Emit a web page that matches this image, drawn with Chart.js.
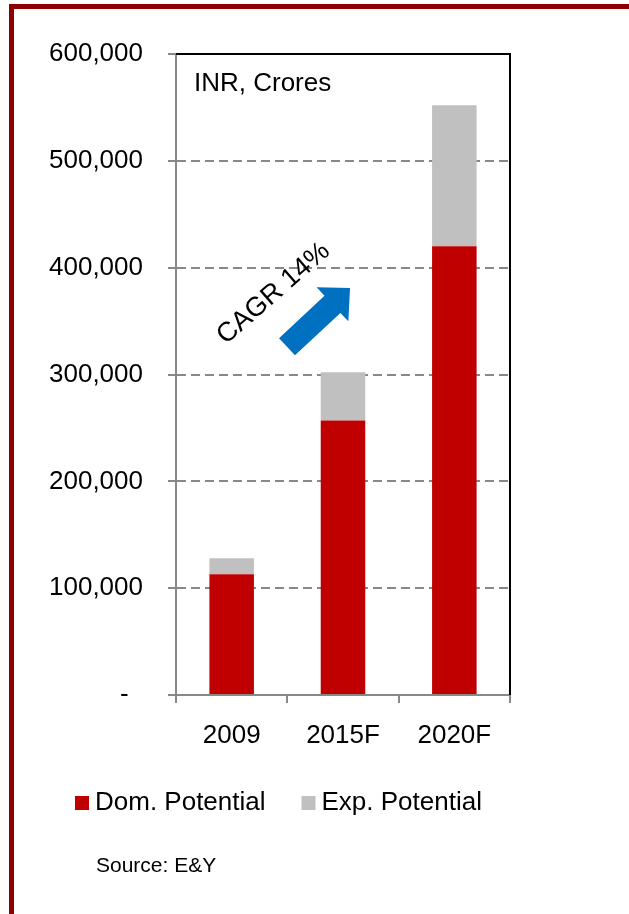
<!DOCTYPE html>
<html><head><meta charset="utf-8">
<script src="https://cdn.jsdelivr.net/npm/chart.js@4/dist/chart.umd.min.js"></script>
<style>
html,body{margin:0;padding:0;width:629px;height:914px;overflow:hidden;background:#fff}
#frame{position:absolute;left:9px;top:4px;width:700px;height:1000px;border:5px solid #8E0000;box-sizing:border-box}
#wrap{position:absolute;left:0;top:0;width:629px;height:914px}
</style></head>
<body><div id="frame"></div><div id="wrap"><canvas id="c" width="629" height="914"></canvas></div>
<script>
const categories = ['2009', '2015F', '2020F'];
const seriesNames = ['Dom. Potential', 'Exp. Potential'];
const domPotential = [113000, 257000, 420000];
const expPotential = [15000, 45000, 132000];
const yTickValues = [0, 100000, 200000, 300000, 400000, 500000, 600000];
const yTickLabels = ['-  ', '100,000', '200,000', '300,000', '400,000', '500,000', '600,000'];
const unitLabel = 'INR, Crores';
const cagrLabel = 'CAGR 14%';
const sourceLabel = 'Source: E&Y';

const FONT = '"Liberation Sans", Arial, sans-serif';
Chart.defaults.font.family = FONT;
Chart.defaults.color = '#000';

const extras = {
  id: 'extras',
  afterDraw(chart) {
    const ctx = chart.ctx;
    const a = chart.chartArea;
    const xs = chart.scales.x, ys = chart.scales.y;
    ctx.save();
    // black top & right frame of plot area
    ctx.strokeStyle = '#000';
    ctx.lineWidth = 2;
    ctx.beginPath();
    ctx.moveTo(a.left, a.top);
    ctx.lineTo(a.right, a.top);
    ctx.lineTo(a.right, a.bottom);
    ctx.stroke();
    // unit label
    ctx.fillStyle = '#000';
    ctx.font = '26px ' + FONT;
    ctx.textAlign = 'left';
    ctx.textBaseline = 'middle';
    ctx.fillText(unitLabel, a.left + 18, a.top + 30);
    // arrow
    const T = {x: xs.getPixelForValue(1.063), y: ys.getPixelForValue(381000)};
    const P = {x: xs.getPixelForValue(0.497), y: ys.getPixelForValue(326000)};
    const dx = T.x - P.x, dy = T.y - P.y, L = Math.hypot(dx, dy);
    const u = {x: dx / L, y: dy / L}, n = {x: -u.y, y: u.x};
    const hl = 24, hw = 23.3, sw = 11.7;
    const B = {x: T.x - u.x * hl, y: T.y - u.y * hl};
    const pts = [
      [P.x + n.x * sw, P.y + n.y * sw],
      [B.x + n.x * sw, B.y + n.y * sw],
      [B.x + n.x * hw, B.y + n.y * hw],
      [T.x, T.y],
      [B.x - n.x * hw, B.y - n.y * hw],
      [B.x - n.x * sw, B.y - n.y * sw],
      [P.x - n.x * sw, P.y - n.y * sw]
    ];
    ctx.fillStyle = '#0070C0';
    ctx.beginPath();
    pts.forEach((p, i) => i ? ctx.lineTo(p[0], p[1]) : ctx.moveTo(p[0], p[1]));
    ctx.closePath();
    ctx.fill();
    // CAGR text
    ctx.save();
    ctx.translate(xs.getPixelForValue(0.376), ys.getPixelForValue(375800));
    ctx.rotate(-41 * Math.PI / 180);
    ctx.fillStyle = '#000';
    ctx.font = '27px ' + FONT;
    ctx.textAlign = 'center';
    ctx.textBaseline = 'middle';
    ctx.fillText(cagrLabel, 0, 0);
    ctx.restore();
    // legend
    ctx.font = '26px ' + FONT;
    ctx.textAlign = 'left';
    ctx.textBaseline = 'middle';
    let lx = 75;
    const ly = a.bottom + 108;
    chart.data.datasets.forEach((ds) => {
      ctx.fillStyle = ds.backgroundColor;
      ctx.fillRect(lx, ly - 7, 14, 14);
      ctx.fillStyle = '#000';
      ctx.fillText(ds.label, lx + 20, ly);
      lx += 20 + ctx.measureText(ds.label).width + 36;
    });
    // source
    ctx.font = '21px ' + FONT;
    ctx.fillText(sourceLabel, 96, a.bottom + 171);
    ctx.restore();
  }
};

new Chart(document.getElementById('c'), {
  type: 'bar',
  data: {
    labels: categories,
    datasets: [
      {label: seriesNames[0], data: domPotential, backgroundColor: '#C00000', barPercentage: 0.4, categoryPercentage: 1},
      {label: seriesNames[1], data: expPotential, backgroundColor: '#C0C0C0', barPercentage: 0.4, categoryPercentage: 1}
    ]
  },
  options: {
    responsive: false,
    devicePixelRatio: 1,
    animation: false,
    layout: {padding: {left: 0, top: 54, right: 119, bottom: 163}},
    plugins: {legend: {display: false}, tooltip: {enabled: false}},
    scales: {
      x: {
        stacked: true,
        afterFit: (s) => { s.height = 56; },
        grid: {drawOnChartArea: false, drawTicks: true, tickLength: 8, color: '#888', tickColor: '#888', lineWidth: 2, offset: true},
        border: {color: '#888', width: 2},
        ticks: {font: {size: 26}, color: '#000', padding: 17, maxRotation: 0}
      },
      y: {
        stacked: true,
        min: 0, max: 600000,
        afterFit: (s) => { s.width = 176; },
        afterBuildTicks: (s) => { s.ticks = yTickValues.map(v => ({value: v})); },
        grid: {
          drawTicks: true, tickLength: 8, lineWidth: 2,
          color: (c) => (c.tick && (c.tick.value === 0 || c.tick.value === 600000)) ? 'rgba(0,0,0,0)' : '#888',
          tickColor: '#888'
        },
        border: {color: '#888', width: 2, dash: [9, 5]},
        ticks: {
          font: {size: 26}, color: '#000', padding: 25,
          callback: (v) => { const i = yTickValues.indexOf(v); return i >= 0 ? yTickLabels[i] : ''; }
        }
      }
    }
  },
  plugins: [extras]
});
</script></body></html>
